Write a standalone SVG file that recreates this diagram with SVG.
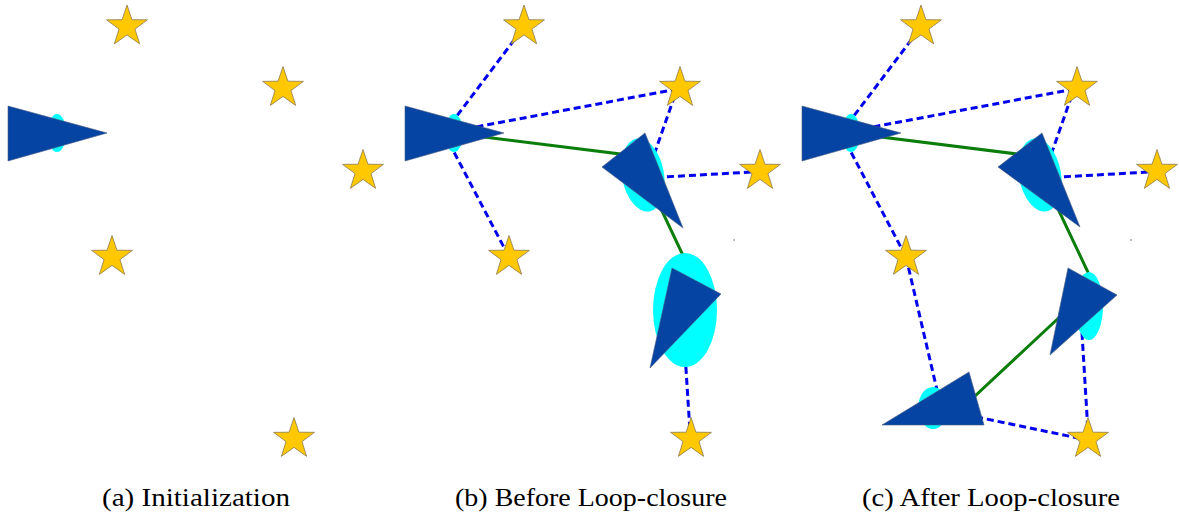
<svg xmlns="http://www.w3.org/2000/svg" width="1179" height="516" viewBox="0 0 1179 516">
<style>
.tri{fill:#0544a2;stroke:#4a5a80;stroke-width:0.6}
.cov{fill:#00ffff}
.odo{stroke:#0a7d0a;stroke-width:3;fill:none}
.obs{stroke:#0000ee;stroke-width:3;stroke-dasharray:7,4;fill:none}
.cap{font-family:"Liberation Serif","Times New Roman",serif;font-size:26px;fill:#000}
</style>
<defs>
<polygon id="star" points="0,-21.5 4.94,-6.8 20.45,-6.64 7.99,2.6 12.64,17.39 0,8.4 -12.64,17.39 -7.99,2.6 -20.45,-6.64 -4.94,-6.8" fill="#ffc800" stroke="#8a7a50" stroke-width="0.8"/>
</defs>
<rect width="1179" height="516" fill="#fff"/>
<g id="connectors">
<line class="obs" x1="444" y1="133" x2="524" y2="27"/>
<line class="obs" x1="444" y1="133" x2="672" y2="90"/>
<line class="obs" x1="444" y1="133" x2="509" y2="257"/>
<line class="obs" x1="647" y1="175" x2="676" y2="92"/>
<line class="obs" x1="645" y1="178" x2="752" y2="172"/>
<line class="obs" x1="681" y1="290" x2="690" y2="432"/>
<polyline class="odo" points="444,132 636,156 697,285"/>
<line class="obs" x1="841" y1="133" x2="921" y2="27"/>
<line class="obs" x1="841" y1="133" x2="1069" y2="90"/>
<line class="obs" x1="841" y1="133" x2="906" y2="257"/>
<line class="obs" x1="1044" y1="175" x2="1073" y2="92"/>
<line class="obs" x1="1042" y1="178" x2="1149" y2="172"/>
<line class="obs" x1="1080" y1="300" x2="1088" y2="432"/>
<line class="obs" x1="906" y1="257" x2="937" y2="390"/>
<line class="obs" x1="933" y1="408" x2="1088" y2="440"/>
<polyline class="odo" points="841,132 1033,156 1094,285 960,410"/>
</g>
<g id="stars">
<use href="#star" x="127" y="26.5"/>
<use href="#star" x="283" y="88"/>
<use href="#star" x="363" y="171"/>
<use href="#star" x="112" y="257"/>
<use href="#star" x="294" y="439"/>
<use href="#star" x="524" y="26.5"/>
<use href="#star" x="680" y="88"/>
<use href="#star" x="760" y="171"/>
<use href="#star" x="509" y="257"/>
<use href="#star" x="691" y="439"/>
<use href="#star" x="921" y="26.5"/>
<use href="#star" x="1077" y="88"/>
<use href="#star" x="1157" y="171"/>
<use href="#star" x="906" y="257"/>
<use href="#star" x="1088" y="439"/>
</g>
<g id="pose-a1">
<ellipse class="cov" cx="57" cy="133" rx="9" ry="19"/>
<polygon class="tri" points="8,106 8,161 107,133"/>
</g>
<g id="pose-b1">
<ellipse class="cov" cx="454" cy="133" rx="9" ry="19"/>
<polygon class="tri" points="405,106 405,161 504,133"/>
</g>
<g id="pose-b2">
<ellipse class="cov" cx="643" cy="175" rx="21" ry="37" transform="rotate(-10 643 175)"/>
<polygon class="tri" points="602,167 645,133 683,228"/>
</g>
<g id="pose-b3">
<ellipse class="cov" cx="685" cy="310" rx="32" ry="57"/>
<polygon class="tri" points="672,268 721,294 650,368"/>
</g>
<g id="pose-c1">
<ellipse class="cov" cx="851" cy="133" rx="9" ry="19"/>
<polygon class="tri" points="802,106 802,161 901,133"/>
</g>
<g id="pose-c2">
<ellipse class="cov" cx="1040" cy="175" rx="21" ry="37" transform="rotate(-10 1040 175)"/>
<polygon class="tri" points="998,167 1042,133 1080,227"/>
</g>
<g id="pose-c3">
<ellipse class="cov" cx="1089" cy="306" rx="14" ry="34"/>
<polygon class="tri" points="1068,268 1117,295 1050,355"/>
</g>
<g id="pose-c4">
<ellipse class="cov" cx="933" cy="408" rx="15" ry="21"/>
<polygon class="tri" points="882,425 969,372 984,425"/>
</g>
<rect x="733" y="239" width="2" height="2" fill="#bbb"/>
<rect x="1130" y="239" width="2" height="2" fill="#bbb"/>
<g id="captions">
<text class="cap" x="102" y="506" textLength="188" lengthAdjust="spacingAndGlyphs">(a)  Initialization</text>
<text class="cap" x="455" y="506" textLength="272" lengthAdjust="spacingAndGlyphs">(b)  Before Loop-closure</text>
<text class="cap" x="862" y="506" textLength="258" lengthAdjust="spacingAndGlyphs">(c)  After Loop-closure</text>
</g>
</svg>
